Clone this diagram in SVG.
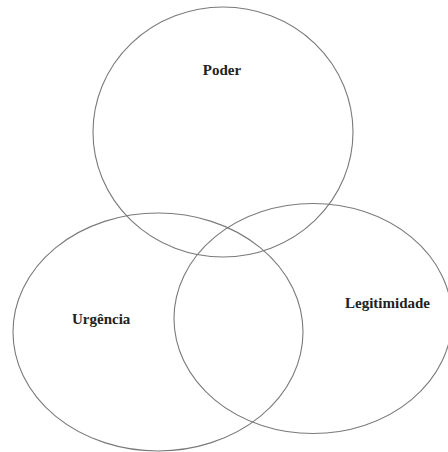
<svg xmlns="http://www.w3.org/2000/svg" width="448" height="452" viewBox="0 0 448 452">
<style>
.c{fill:none;stroke:#7a7a7a;stroke-width:1.1}
.t{font-family:"Liberation Serif","Times New Roman",serif;font-weight:bold;font-size:15px;fill:#222}
</style>
<rect width="448" height="452" fill="#fff"/>
<g id="poder">
<ellipse class="c" cx="223" cy="132" rx="130" ry="125"/>
<text class="t" x="222" y="75" text-anchor="middle">Poder</text>
</g>
<g id="urgencia">
<ellipse class="c" cx="158" cy="332" rx="145" ry="119"/>
<text class="t" x="72" y="324">Urgência</text>
</g>
<g id="legitimidade">
<ellipse class="c" cx="313" cy="318.5" rx="139" ry="115"/>
<text class="t" x="345" y="308">Legitimidade</text>
</g>
</svg>
